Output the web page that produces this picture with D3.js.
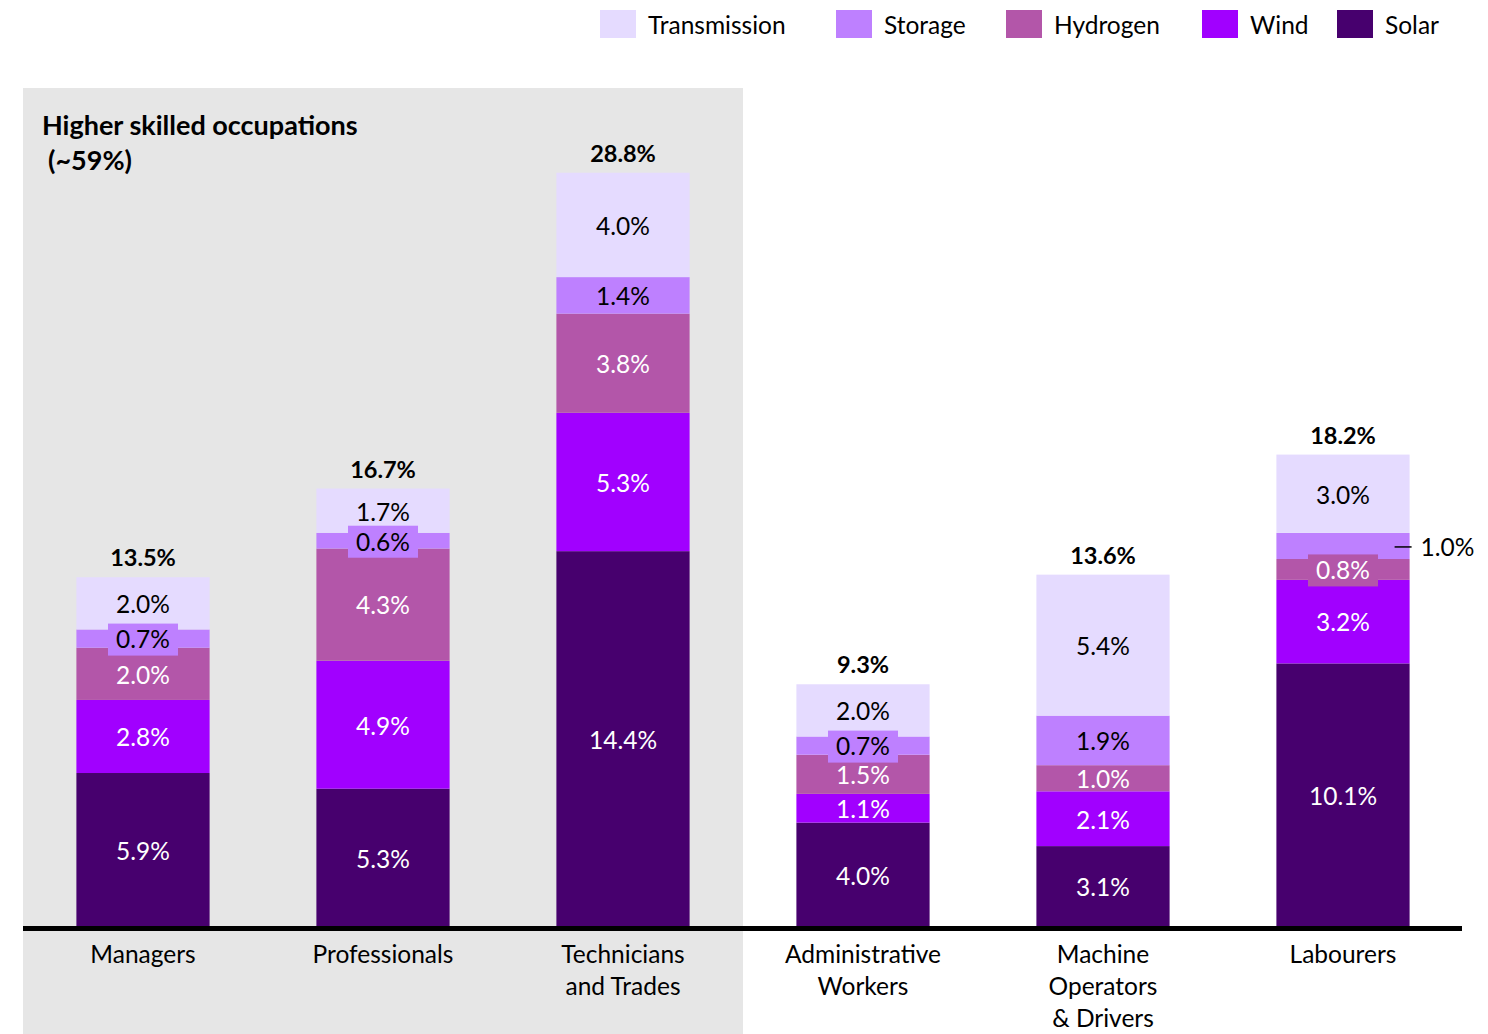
<!DOCTYPE html>
<html><head><meta charset="utf-8">
<script src="https://cdn.jsdelivr.net/npm/d3@7"></script>
<style>body{margin:0;background:#fff;} svg{display:block;font-family:Lato,"Open Sans",sans-serif;}</style>
</head><body>
<svg id="c" width="1488" height="1034"></svg>
<script>
const categories = ["Managers","Professionals","Technicians and Trades","Administrative Workers","Machine Operators & Drivers","Labourers"];
const categoryLines = [["Managers"],["Professionals"],["Technicians","and Trades"],["Administrative","Workers"],["Machine","Operators","& Drivers"],["Labourers"]];
const seriesNames = ["Solar","Wind","Hydrogen","Storage","Transmission"];
const solar = [5.9,5.3,14.4,4.0,3.1,10.1];
const wind = [2.8,4.9,5.3,1.1,2.1,3.2];
const hydrogen = [2.0,4.3,3.8,1.5,1.0,0.8];
const storage = [0.7,0.6,1.4,0.7,1.9,1.0];
const transmission = [2.0,1.7,4.0,2.0,5.4,3.0];
const totals = ["13.5%","16.7%","28.8%","9.3%","13.6%","18.2%"];
const colors = {Solar:"#47006e",Wind:"#a100ff",Hydrogen:"#b356a9",Storage:"#be80ff",Transmission:"#e5dbff"};
const labelColors = {Solar:"#fff",Wind:"#fff",Hydrogen:"#fff",Storage:"#000",Transmission:"#000"};
const legendOrder = ["Transmission","Storage","Hydrogen","Wind","Solar"];

const seriesVals = {Solar:solar,Wind:wind,Hydrogen:hydrogen,Storage:storage,Transmission:transmission};
const table = categories.map((c,i)=>{const o={cat:c};seriesNames.forEach(s=>o[s]=seriesVals[s][i]);return o;});

const FS = 24.5;
const svg = d3.select("#c");
const x = d3.scaleBand().domain(categories).range([23,1463]).paddingInner(0.445).paddingOuter(0.2225);
const y = d3.scaleLinear().domain([0,30]).range([927,927-30*26.1]);

// gray panel
svg.append("rect").attr("x",23).attr("y",88).attr("width",720).attr("height",946).attr("fill","#e6e6e6");
svg.append("text").attr("x",42).attr("y",135).attr("font-weight","bold").attr("font-size",27).attr("fill","#000").text("Higher skilled occupations");
svg.append("text").attr("x",48).attr("y",170).attr("font-weight","bold").attr("font-size",27).attr("fill","#000").text("(~59%)");

const stacked = d3.stack().keys(seriesNames)(table);
const g = svg.append("g");
stacked.forEach(layer=>{
  g.selectAll(null).data(layer).join("rect")
    .attr("x",d=>x(d.data.cat)).attr("width",x.bandwidth())
    .attr("y",d=>y(d[1])).attr("height",d=>y(d[0])-y(d[1]))
    .attr("fill",colors[layer.key]);
});
// labels
stacked.forEach(layer=>{
  layer.forEach(d=>{
    const v = d.data[layer.key];
    const cx = x(d.data.cat)+x.bandwidth()/2;
    const cy = (y(d[0])+y(d[1]))/2 + 1;
    if (d.data.cat==="Labourers" && layer.key==="Storage"){
      svg.append("line").attr("x1",x(d.data.cat)+x.bandwidth()-15).attr("x2",x(d.data.cat)+x.bandwidth()+2)
        .attr("y1",cy).attr("y2",cy).attr("stroke","#000").attr("stroke-width",1.5);
      svg.append("text").attr("x",x(d.data.cat)+x.bandwidth()+11).attr("y",cy).attr("dy","0.36em")
        .attr("font-size",FS).attr("fill","#000").text(v.toFixed(1)+"%");
      return;
    }
    if (v<=0.8){
      svg.append("rect").attr("x",cx-35).attr("y",cy-16).attr("width",70).attr("height",32).attr("fill",colors[layer.key]);
    }
    svg.append("text").attr("x",cx).attr("y",cy).attr("dy","0.36em").attr("text-anchor","middle")
      .attr("font-size",FS).attr("fill",labelColors[layer.key]).text(v.toFixed(1)+"%");
  });
});
// totals
const topLayer = stacked[stacked.length-1];
topLayer.forEach((d,i)=>{
  svg.append("text").attr("x",x(d.data.cat)+x.bandwidth()/2).attr("y",y(d[1])-11).attr("text-anchor","middle")
    .attr("font-weight","bold").attr("font-size",23.5).attr("fill","#000").text(totals[i]);
});
// baseline
svg.append("line").attr("x1",23).attr("x2",1462).attr("y1",928.5).attr("y2",928.5).attr("stroke","#000").attr("stroke-width",5);
// category labels
categories.forEach((c,i)=>{
  const t = svg.append("text").attr("x",x(c)+x.bandwidth()/2).attr("y",963).attr("text-anchor","middle").attr("font-size",FS).attr("fill","#000");
  categoryLines[i].forEach((ln,j)=>t.append("tspan").attr("x",x(c)+x.bandwidth()/2).attr("dy",j===0?0:32).text(ln));
});
// legend
const legX = [600,836,1006,1202,1337];
legendOrder.forEach((s,i)=>{
  svg.append("rect").attr("x",legX[i]).attr("y",10).attr("width",36).attr("height",28).attr("fill",colors[s]);
  svg.append("text").attr("x",legX[i]+48).attr("y",25).attr("dy","0.36em").attr("font-size",FS).attr("fill","#000").text(s);
});
</script>
</body></html>
